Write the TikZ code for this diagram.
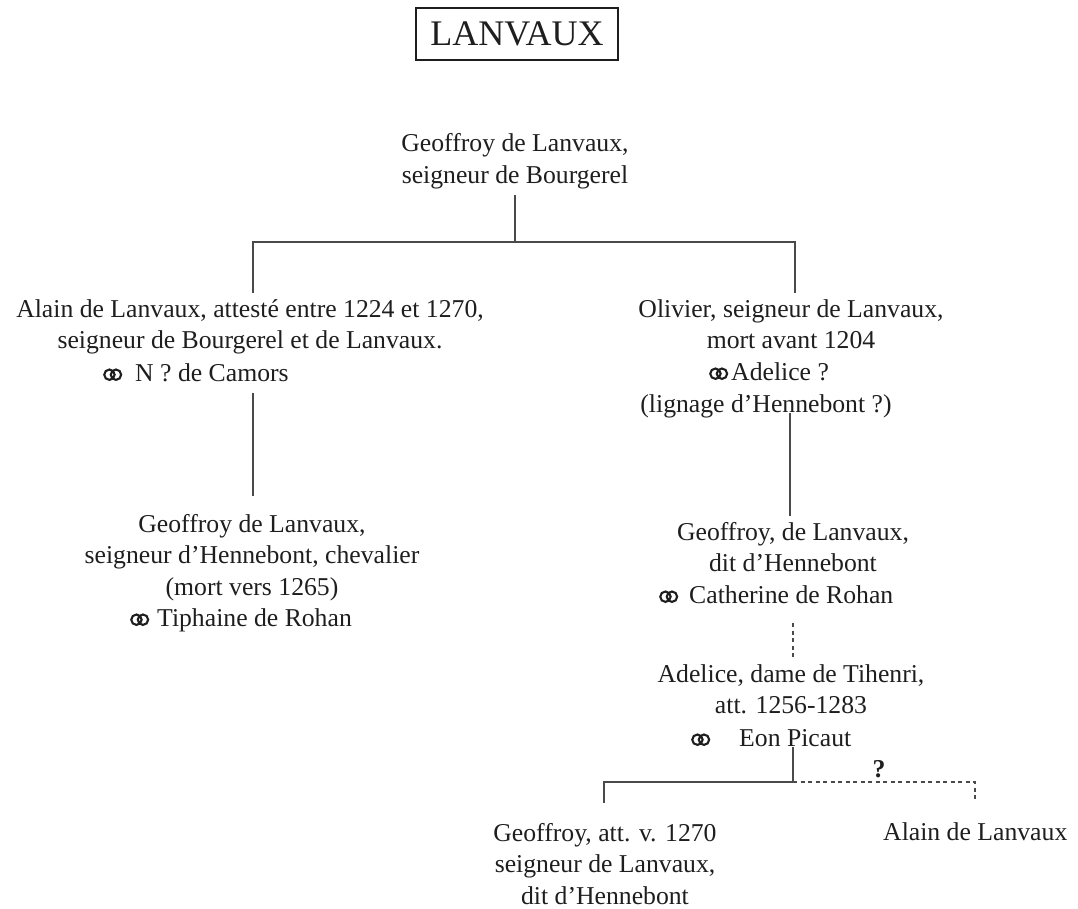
\documentclass[tikz,border=0pt]{standalone}
\usepackage{fontspec}
\setmainfont{Liberation Serif}
\definecolor{ink}{HTML}{1E1E1E}
\definecolor{rulec}{HTML}{4A4A4A}
\newcommand\rings{\tikz[baseline=0pt,x=1pt,y=1pt]{\path (0,0) (18,0); \draw[line width=2.1pt,ink] (6,6.3) circle[radius=5.2pt] (12.5,6.3) circle[radius=5.2pt];}}
\newcommand\stack[1]{\begin{tabular}[t]{@{}c@{}}#1\end{tabular}}
\begin{document}
\begin{tikzpicture}[x=1pt,y=-1pt,
  txt/.style={font=\fontsize{25.7}{31.5}\selectfont, inner sep=0pt, text=ink},
  ln/.style={draw=rulec, line width=1.3pt},
  dln/.style={ln, dash pattern=on 4pt off 3.5pt}]
\useasboundingbox (0,0) rectangle (1078,909);

\node[draw=ink, line width=2pt, minimum width=202pt, minimum height=52pt, inner sep=0pt,
      text=ink, font=\fontsize{36}{40}\selectfont] (title) at (517,34) {LANVAUX};

\node[txt, anchor=base] (root) at (515,152) {\stack{Geoffroy de Lanvaux,\\seigneur de Bourgerel}};

\node[txt, anchor=base] (alain) at (250,317) {\stack{Alain de Lanvaux, attesté entre 1224 et 1270,\\seigneur de Bourgerel et de Lanvaux.}};
\node[txt, anchor=base west] (alainsp) at (103,381) {\rings\hspace{13pt}N ? de Camors};

\node[txt, anchor=base] (olivier) at (791,317) {\stack{Olivier, seigneur de Lanvaux,\\mort avant 1204}};
\node[txt, anchor=base west] (olivsp) at (709,380) {\rings\hspace{3pt}Adelice ?};
\node[txt, anchor=base] (olivnote) at (766,412) {(lignage d’Hennebont ?)};

\node[txt, anchor=base] (geoL) at (252,532) {\stack{Geoffroy de Lanvaux,\\seigneur d’Hennebont, chevalier\\(mort vers 1265)}};
\node[txt, anchor=base west] (geoLsp) at (130,626) {\rings\hspace{8pt}Tiphaine de Rohan};

\node[txt, anchor=base] (geoR) at (793,540) {\stack{Geoffroy, de Lanvaux,\\dit d’Hennebont}};
\node[txt, anchor=base west] (geoRsp) at (659,603) {\rings\hspace{11pt}Catherine de Rohan};

\node[txt, anchor=base] (adelice) at (791,682) {\stack{Adelice, dame de Tihenri,\\att. 1256-1283}};
\node[txt, anchor=base west] (adsp) at (691,746) {\rings\hspace{29pt}Eon Picaut};

\node[txt, anchor=base] (geoB) at (605,841) {\stack{Geoffroy, att. v. 1270\\seigneur de Lanvaux,\\dit d’Hennebont}};
\node[txt, anchor=base west] (alainB) at (883,840) {Alain de Lanvaux};
\node[txt, anchor=base, font=\fontsize{25.7}{31.5}\selectfont\bfseries] (q) at (879,777) {?};

% connectors
\coordinate (rootB) at (515,195);
\coordinate (hub) at (515,242);
\coordinate (hubL) at (253,242);
\coordinate (hubR) at (795,242);
\coordinate (alainT) at (253,293);
\coordinate (olivT) at (795,293);
\draw[ln] (rootB) -- (hub);
\draw[ln] (alainT) -- (hubL) -- (hubR) -- (olivT);

\coordinate (alainB0) at (253,393);
\coordinate (geoLT) at (253,496);
\draw[ln] (alainB0) -- (geoLT);

\coordinate (olivB0) at (790,413);
\coordinate (geoRT) at (790,516);
\draw[ln] (olivB0) -- (geoRT);

\coordinate (geoRB) at (793,623);
\coordinate (adeliceT) at (793,660);
\draw[dln] (geoRB) -- (adeliceT);

\coordinate (adB) at (793,747);
\coordinate (adJ) at (793,782);
\coordinate (geoBJ) at (604,782);
\coordinate (geoBT) at (604,803);
\coordinate (alainBJ) at (975,782);
\coordinate (alainBT) at (975,800);
\draw[ln] (adB) -- (adJ) -- (geoBJ) -- (geoBT);
\draw[dln] (adJ) -- (alainBJ) -- (alainBT);
\end{tikzpicture}
\end{document}
